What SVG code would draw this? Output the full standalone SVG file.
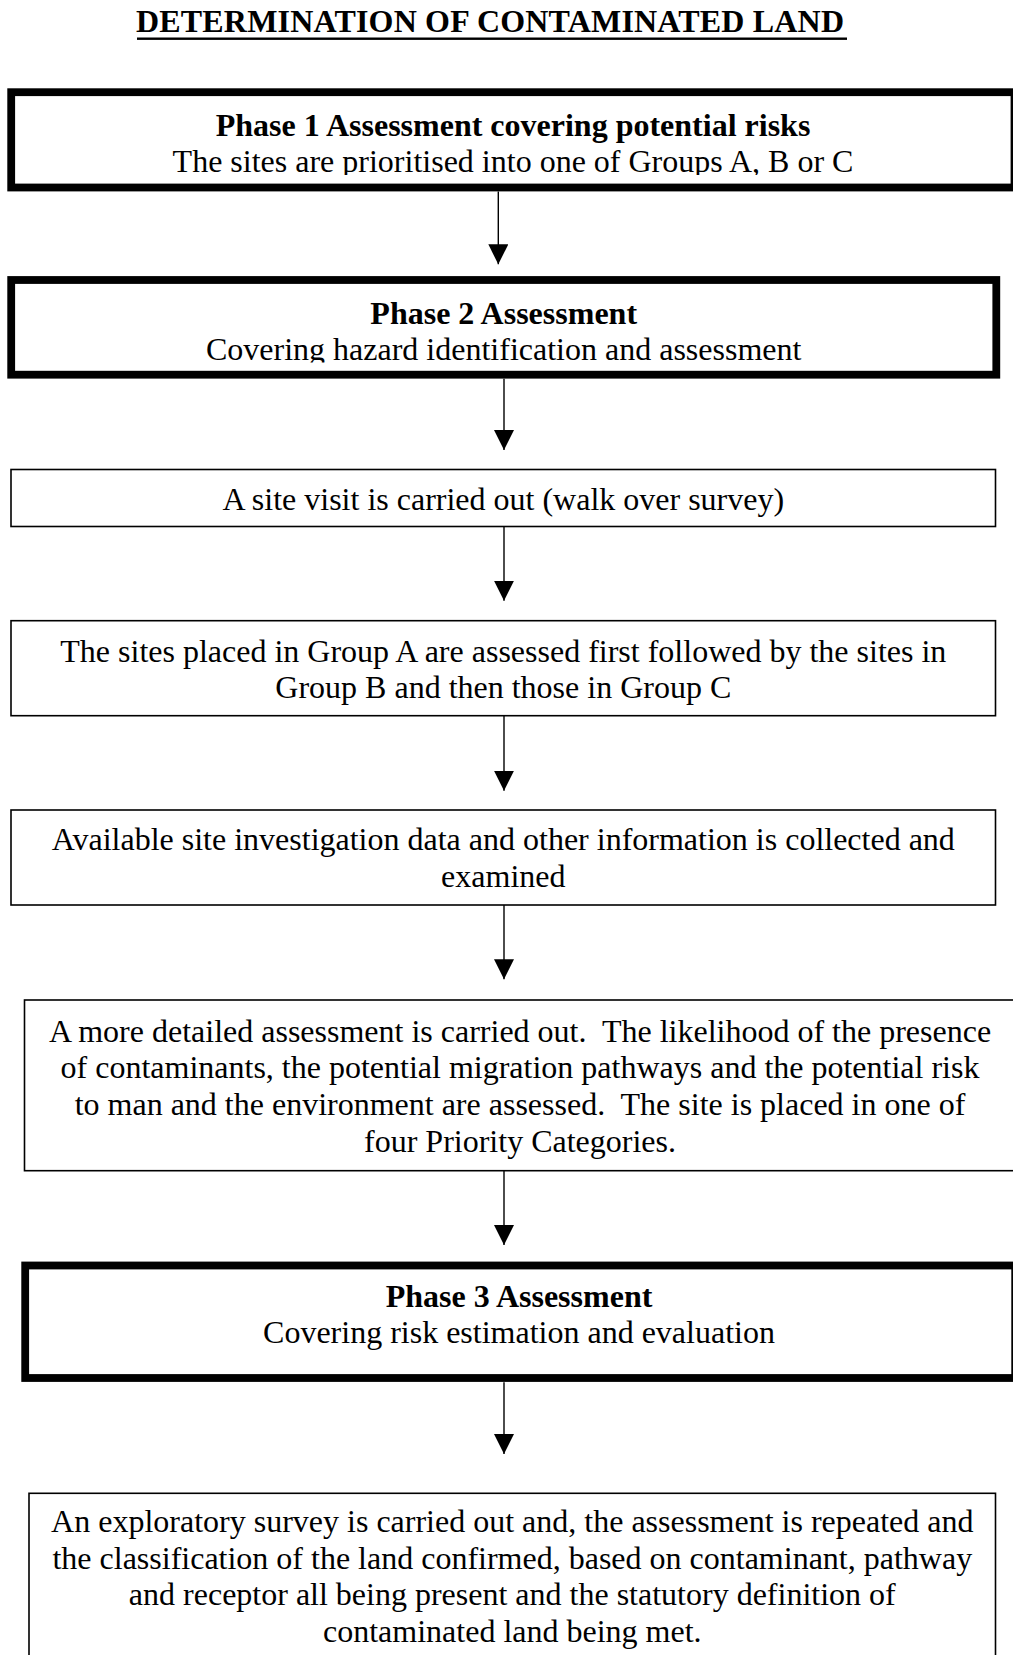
<svg xmlns="http://www.w3.org/2000/svg" width="1013" height="1655" viewBox="0 0 1013 1655">
  <style>
    .t { font-family: "Liberation Serif", "Times New Roman", serif; font-size: 32px; fill: #000; text-anchor: middle; }
    .b { font-weight: bold; }
    .thick { fill: #fff; stroke: #000; stroke-width: 7.8; }
    .thin { fill: #fff; stroke: #000; stroke-width: 1.6; }
    .conn { stroke: #000; stroke-width: 1.4; fill: none; marker-end: url(#head); }
  </style>
  <defs>
    <marker id="head" markerUnits="userSpaceOnUse" markerWidth="20" markerHeight="20" refX="20" refY="10" orient="auto">
      <path d="M0,0 L20,10 L0,20 Z" fill="#000"/>
    </marker>
    <!-- text frames cut off the descenders of the last line -->
    <clipPath id="clip1"><rect x="15" y="96" width="998" height="79"/></clipPath>
    <clipPath id="clip2"><rect x="15" y="284" width="977" height="78.5"/></clipPath>
  </defs>

  <rect width="1013" height="1655" fill="#fff"/>

  <!-- heading -->
  <g id="title">
    <text class="t b" x="490" y="32" textLength="708" lengthAdjust="spacing">DETERMINATION OF CONTAMINATED LAND</text>
    <rect x="137" y="37.5" width="710" height="2.4" fill="#000"/>
  </g>

  <!-- connectors -->
  <g id="connectors">
    <line class="conn" x1="498.3" y1="191.5" x2="498.3" y2="264.3"/>
    <line class="conn" x1="504" y1="378.7" x2="504" y2="450"/>
    <line class="conn" x1="504" y1="526.7" x2="504" y2="600.7"/>
    <line class="conn" x1="504" y1="715.7" x2="504" y2="790.7"/>
    <line class="conn" x1="504" y1="905" x2="504" y2="979.3"/>
    <line class="conn" x1="504" y1="1170.7" x2="504" y2="1245"/>
    <line class="conn" x1="504" y1="1382.3" x2="504" y2="1454"/>
  </g>

  <!-- Phase 1 -->
  <g id="phase1">
    <rect class="thick" x="11.2" y="92.2" width="1003.3" height="95.3"/>
    <g clip-path="url(#clip1)">
      <text class="t b" x="513" y="135.5">Phase 1 Assessment covering potential risks</text>
      <text class="t" x="513" y="172">The sites are prioritised into one of Groups A, B or C</text>
    </g>
  </g>

  <!-- Phase 2 -->
  <g id="phase2">
    <rect class="thick" x="11.2" y="280" width="985.1" height="94.7"/>
    <g clip-path="url(#clip2)">
      <text class="t b" x="503.7" y="323.5">Phase 2 Assessment</text>
      <text class="t" x="503.7" y="359.5">Covering hazard identification and assessment</text>
    </g>
  </g>

  <!-- site visit -->
  <g id="site-visit">
    <rect class="thin" x="11" y="469.5" width="984.5" height="57"/>
    <text class="t" x="503.3" y="510">A site visit is carried out (walk over survey)</text>
  </g>

  <!-- group order -->
  <g id="group-order">
    <rect class="thin" x="11" y="620.7" width="984.5" height="95"/>
    <text class="t" x="503.3" y="661.5">The sites placed in Group A are assessed first followed by the sites in</text>
    <text class="t" x="503.3" y="698.3">Group B and then those in Group C</text>
  </g>

  <!-- data collection -->
  <g id="data-review">
    <rect class="thin" x="11" y="810" width="984.5" height="95"/>
    <text class="t" x="503.3" y="849.8">Available site investigation data and other information is collected and</text>
    <text class="t" x="503.3" y="886.6">examined</text>
  </g>

  <!-- detailed assessment -->
  <g id="detailed-assessment">
    <rect class="thin" x="24.5" y="1000" width="991" height="170.7"/>
    <text class="t" x="520" y="1041.5" xml:space="preserve">A more detailed assessment is carried out.  The likelihood of the presence</text>
    <text class="t" x="520" y="1078.3">of contaminants, the potential migration pathways and the potential risk</text>
    <text class="t" x="520" y="1115.1" xml:space="preserve">to man and the environment are assessed.  The site is placed in one of</text>
    <text class="t" x="520" y="1151.9">four Priority Categories.</text>
  </g>

  <!-- Phase 3 -->
  <g id="phase3">
    <rect class="thick" x="25.2" y="1265.5" width="990" height="112.5"/>
    <text class="t b" x="519" y="1306.7">Phase 3 Assessment</text>
    <text class="t" x="519" y="1343.3">Covering risk estimation and evaluation</text>
  </g>

  <!-- exploratory survey -->
  <g id="exploratory-survey">
    <rect class="thin" x="29" y="1493.3" width="966.5" height="200"/>
    <text class="t" x="512.3" y="1531.7">An exploratory survey is carried out and, the assessment is repeated and</text>
    <text class="t" x="512.3" y="1568.5">the classification of the land confirmed, based on contaminant, pathway</text>
    <text class="t" x="512.3" y="1605.3">and receptor all being present and the statutory definition of</text>
    <text class="t" x="512.3" y="1642.1">contaminated land being met.</text>
  </g>
</svg>
